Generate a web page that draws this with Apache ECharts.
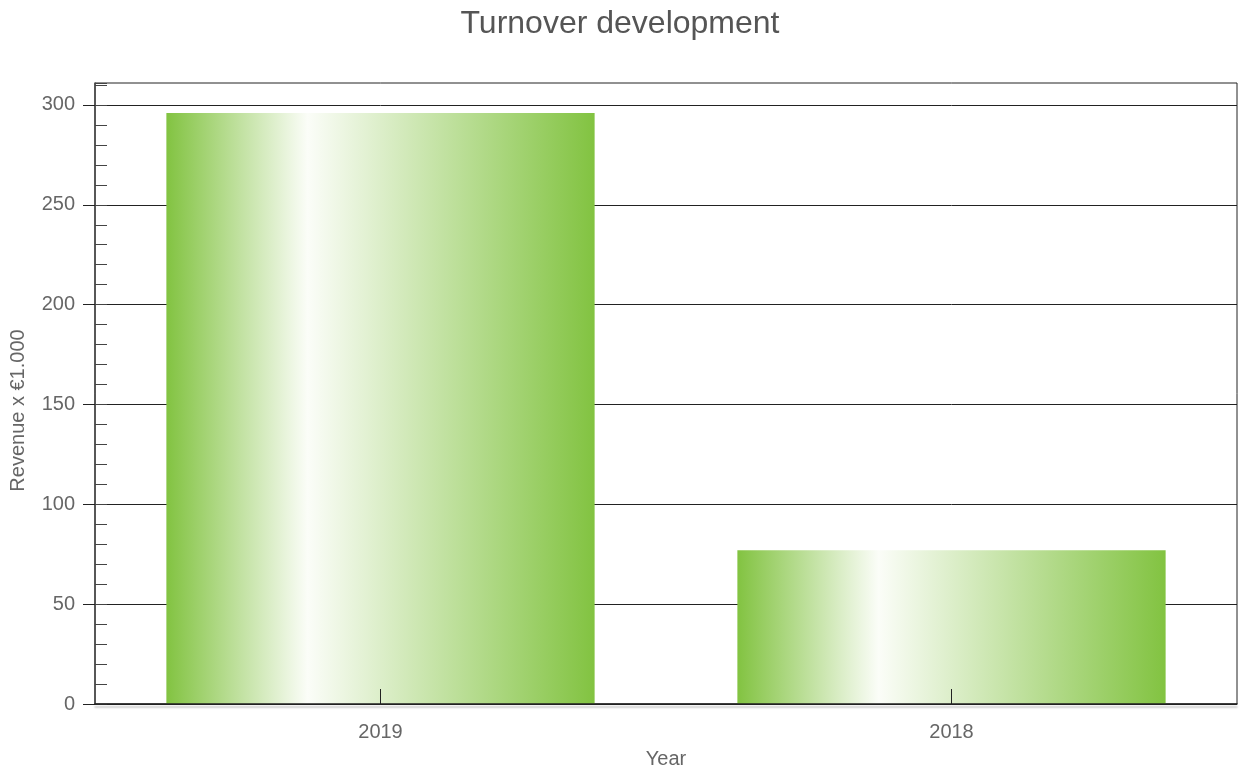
<!DOCTYPE html>
<html>
<head>
<meta charset="utf-8">
<script src="https://cdn.jsdelivr.net/npm/echarts@6/dist/echarts.min.js"></script>
<style>
  html, body { margin: 0; padding: 0; background: #fff; }
  #chart { width: 1240px; height: 773px; }
</style>
</head>
<body>
<div id="chart"></div>
<script>
// 数据
const years = ['2019', '2018']
const revenue = [296, 77]
const yTicks = [0, 50, 100, 150, 200, 250, 300]

const chart = echarts.init(document.getElementById('chart'))

// 横向渐变：绿 -> 白 -> 绿
const barColor = new echarts.graphic.LinearGradient(0, 0, 1, 0, [
  { offset: 0, color: '#82c341' },
  { offset: 0.33, color: '#fbfdf8' },
  { offset: 1, color: '#82c341' }
])

const option = {
  animation: false,
  textStyle: { fontFamily: 'Liberation Sans, Arial, sans-serif' },
  title: {
    text: 'Turnover development',
    left: 'center',
    top: 3,
    textStyle: { fontSize: 32, fontWeight: 'normal', color: '#555' }
  },
  grid: {
    left: 95, right: 3, top: 83, bottom: 69,
    containLabel: false,
    outerBoundsMode: 'none',
    show: true, borderColor: '#222', borderWidth: 1
  },
  xAxis: {
    type: 'category',
    data: years,
    z: 10,
    name: 'Year',
    nameLocation: 'middle',
    nameGap: 45,
    nameTextStyle: { fontSize: 20, color: '#666' },
    axisLine: {
      lineStyle: { color: '#222', width: 1.5, shadowColor: 'rgba(0,0,0,0.25)', shadowBlur: 2, shadowOffsetY: 3 }
    },
    axisTick: { show: true, interval: 0, inside: true, alignWithLabel: true, length: 15, lineStyle: { color: '#222', width: 1 } },
    axisLabel: { fontSize: 20, color: '#666', margin: 18 }
  },
  yAxis: [
    {
      type: 'value',
      min: 0,
      max: 311,
      interval: 50,
      name: 'Revenue x €1.000',
      nameLocation: 'middle',
      nameGap: 67,
      nameTextStyle: { fontSize: 20, color: '#666', padding: [0, 34, 0, 0] },
      axisLine: { show: true, lineStyle: { color: '#444', width: 1.5 } },
      axisTick: { show: true, length: 12, customValues: yTicks, lineStyle: { color: '#222' } },
      axisLabel: {
        fontSize: 20, color: '#666', margin: 20,
        customValues: yTicks
      },
      splitLine: { lineStyle: { color: '#222', width: 1 } }
    },
    {
      type: 'value',
      position: 'left',
      min: 0,
      max: 311,
      interval: 10,
      axisLine: { show: false },
      axisTick: { show: true, inside: true, length: 12, lineStyle: { color: '#444' } },
      axisLabel: { show: false },
      splitLine: { show: false }
    }
  ],
  series: [
    {
      type: 'bar',
      data: revenue,
      barWidth: '75%',
      itemStyle: { color: barColor },
      z: 1
    }
  ]
}

chart.setOption(option)
</script>
</body>
</html>
